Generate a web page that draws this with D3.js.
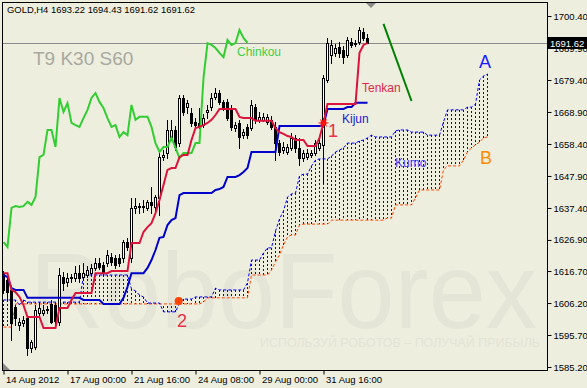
<!DOCTYPE html>
<html>
<head>
<meta charset="utf-8">
<script src="https://cdn.jsdelivr.net/npm/d3@7"></script>
<style>
  body { margin: 0; background: #eeeedf; }
  svg { display: block; font-family: 'Liberation Sans', Arial, sans-serif; }
</style>
</head>
<body>
<div id="chart"></div>
<script>
// GOLD H4 candles, 14 Aug - 3 Sep 2012
var opens = [1616.1,1613.8,1610.5,1604.9,1599.0,1599.6,1601.3,1591.4,1591.8,1602.9,
  1602.9,1603.9,1605.9,1605.6,1600.0,1614.7,1613.1,1614.4,1614.4,1616.1,
  1614.7,1615.4,1616.1,1617.7,1619.3,1618.7,1619.3,1621.3,1621.0,1621.0,
  1621.0,1626.2,1621.0,1637.4,1638.0,1637.7,1637.4,1639.4,1637.7,1640.7,
  1654.1,1655.4,1660.7,1663.0,1658.7,1673.5,1670.5,1668.6,1665.6,1665.3,
  1664.6,1668.9,1670.5,1673.8,1675.1,1672.2,1672.2,1670.2,1663.6,1665.3,
  1661.3,1664.0,1663.6,1670.5,1666.3,1666.3,1665.6,1666.3,1664.0,1658.7,
  1656.4,1655.8,1657.1,1660.4,1657.1,1653.8,1654.1,1654.8,1655.4,1657.1,
  1658.1,1679.4,1687.6,1688.3,1690.2,1689.2,1687.6,1691.9,1691.2,1691.9,
  1695.2,1693.22];
var highs = [1616.7,1615.1,1611.5,1605.6,1601.3,1601.9,1602.3,1594.1,1605.6,1606.2,
  1605.6,1605.2,1607.2,1606.2,1617.7,1616.4,1616.1,1615.7,1618.4,1618.7,
  1619.3,1618.4,1619.0,1621.0,1621.0,1619.7,1623.6,1622.6,1622.0,1622.3,
  1626.9,1627.5,1640.7,1640.7,1639.0,1640.0,1640.0,1644.3,1641.7,1655.8,
  1656.4,1666.3,1666.3,1664.3,1674.5,1674.5,1672.8,1670.2,1666.9,1670.2,
  1668.2,1671.2,1675.1,1676.8,1676.1,1672.8,1673.2,1671.2,1665.6,1666.3,
  1663.3,1665.0,1672.8,1671.5,1668.9,1668.6,1668.2,1667.6,1665.6,1659.7,
  1659.0,1658.4,1662.0,1661.3,1660.4,1656.4,1656.7,1656.4,1659.7,1660.4,
  1681.0,1693.2,1692.5,1691.2,1691.9,1690.6,1693.5,1693.2,1692.5,1696.8,
  1696.5,1694.43];
var lows = [1609.5,1607.2,1594.1,1599.0,1597.3,1598.6,1589.1,1590.1,1591.1,1602.3,
  1602.3,1602.9,1599.6,1599.3,1599.0,1610.5,1611.8,1613.1,1613.4,1613.1,
  1613.8,1614.7,1615.4,1617.0,1617.4,1615.1,1618.4,1618.7,1617.7,1618.4,
  1619.7,1623.6,1619.7,1635.7,1635.7,1636.1,1636.7,1635.7,1636.7,1635.1,
  1653.1,1653.8,1659.7,1656.4,1657.7,1667.9,1668.6,1664.3,1663.6,1663.6,
  1664.0,1666.9,1669.6,1673.2,1671.5,1669.6,1666.3,1663.0,1662.7,1657.1,
  1660.4,1660.4,1663.0,1665.3,1665.6,1666.0,1665.0,1663.3,1653.1,1654.8,
  1655.4,1655.1,1656.4,1655.8,1651.5,1652.8,1653.5,1654.1,1654.8,1656.4,
  1645.6,1678.7,1685.0,1687.3,1686.9,1685.0,1686.9,1690.2,1690.6,1691.2,
  1692.5,1691.62];
var closes = [1610.5,1609.8,1599.6,1601.3,1600.0,1600.6,1591.4,1593.4,1603.9,1604.6,
  1603.9,1604.2,1600.0,1600.3,1615.4,1612.8,1614.4,1614.7,1616.1,1614.4,
  1616.1,1617.0,1617.7,1619.3,1618.0,1616.1,1622.0,1619.7,1618.7,1619.3,
  1626.2,1624.6,1637.4,1638.0,1637.7,1638.0,1639.4,1638.4,1641.0,1654.1,
  1654.8,1663.0,1663.0,1657.4,1673.5,1668.9,1671.8,1665.3,1664.6,1664.0,
  1666.9,1669.6,1673.5,1675.1,1672.2,1670.2,1666.9,1664.0,1664.6,1660.7,
  1662.3,1661.3,1671.2,1666.3,1667.3,1667.3,1667.3,1664.0,1658.7,1655.8,
  1657.4,1657.4,1660.4,1657.1,1653.8,1655.4,1655.4,1655.4,1658.7,1658.7,
  1680.1,1691.5,1690.9,1689.9,1688.3,1686.9,1692.5,1690.9,1691.5,1695.8,
  1693.2,1691.62];

// ichimoku T9 K30 S60
var tenkan = [1616.0,1616.0,1610.5,1609.8,1608.2,1605.5,1601.6,1601.6,1601.6,1601.6,
  1598.0,1598.0,1598.0,1598.0,1604.6,1604.6,1604.6,1607.2,1609.5,1609.5,
  1609.5,1609.5,1609.5,1616.0,1616.0,1616.0,1616.0,1616.7,1616.7,1616.7,
  1616.7,1616.7,1625.9,1625.9,1625.9,1629.5,1631.1,1632.4,1635.7,1640.0,
  1644.9,1649.9,1650.5,1650.5,1654.1,1654.8,1654.8,1659.7,1663.6,1664.0,
  1664.6,1665.3,1666.3,1667.9,1669.9,1669.9,1669.9,1669.9,1669.9,1667.3,
  1666.9,1666.9,1666.9,1666.0,1666.0,1666.0,1666.0,1666.0,1663.6,1662.3,
  1661.7,1661.0,1660.7,1659.7,1659.7,1659.7,1657.7,1657.7,1657.7,1660.4,
  1665.3,1671.5,1671.5,1671.5,1671.5,1671.5,1671.5,1671.5,1671.5,1688.3,
  1690.9,1691.5];
var kijun = [1615.4,1614.7,1611.1,1610.5,1610.5,1610.5,1607.9,1607.9,1607.9,1607.9,
  1607.9,1607.9,1607.9,1607.9,1607.9,1607.9,1607.9,1607.9,1607.9,1607.9,
  1607.2,1607.2,1607.2,1607.2,1607.2,1605.9,1605.9,1605.9,1605.9,1605.9,
  1607.9,1611.5,1616.0,1616.0,1616.0,1616.0,1617.7,1620.3,1623.6,1627.6,
  1627.9,1631.8,1633.4,1634.1,1641.6,1642.3,1642.3,1642.3,1642.3,1642.3,
  1642.3,1642.3,1642.3,1643.3,1643.6,1644.3,1647.6,1647.6,1647.6,1648.2,
  1649.2,1650.5,1655.8,1655.8,1655.8,1655.8,1655.8,1655.8,1655.8,1664.3,
  1664.3,1664.3,1664.3,1664.3,1664.3,1664.3,1664.3,1664.3,1664.3,1664.3,
  1664.6,1669.9,1669.9,1669.9,1669.9,1669.9,1670.5,1670.5,1671.9,1671.9,
  1671.9,1671.9];
// senkou spans, 30 bars ahead of price
var senkouA = [1607.2,1607.2,1607.2,1607.2,1605.5,1607.2,1606.5,1606.5,1606.5,1606.5,
  1606.5,1606.5,1606.5,1606.5,1606.5,1606.5,1606.5,1606.5,1606.5,1606.5,
  1615.4,1615.4,1615.4,1615.4,1615.4,1615.4,1615.4,1615.4,1615.4,1615.4,
  1615.4,1615.4,1610.8,1610.2,1608.8,1608.2,1606.2,1606.2,1606.2,1606.2,
  1603.3,1603.3,1603.3,1603.3,1606.2,1607.5,1607.5,1607.5,1608.2,1608.2,
  1608.2,1608.2,1608.2,1611.1,1610.5,1610.5,1610.5,1610.5,1610.5,1610.5,
  1610.5,1612.8,1620.3,1620.3,1620.3,1622.6,1624.3,1624.3,1629.8,1633.8,
  1636.4,1641.0,1642.0,1642.3,1647.9,1648.5,1648.5,1651.2,1653.1,1653.5,
  1653.5,1653.5,1654.4,1655.8,1656.4,1657.1,1658.7,1658.7,1658.7,1659.4,
  1659.7,1660.4,1661.3,1660.7,1660.7,1660.7,1660.7,1660.7,1662.7,1663.0,
  1663.0,1663.0,1662.3,1662.3,1662.3,1662.3,1661.3,1661.3,1661.3,1661.3,
  1665.6,1669.6,1669.6,1669.6,1669.6,1669.6,1670.5,1670.5,1671.5,1679.4,
  1680.7,1681.4];
var senkouB = [1598.3,1598.3,1598.3,1605.9,1605.9,1605.9,1605.9,1605.9,1605.9,1605.9,
  1605.9,1605.9,1605.9,1605.9,1605.9,1605.9,1605.9,1605.9,1605.9,1605.9,
  1605.9,1605.9,1605.9,1605.9,1605.9,1605.9,1605.9,1605.9,1605.9,1605.9,
  1605.9,1605.9,1605.9,1605.9,1605.9,1605.9,1605.9,1605.9,1605.9,1605.9,
  1605.9,1605.9,1605.9,1605.9,1605.9,1605.9,1605.9,1605.9,1605.9,1605.9,
  1606.5,1607.9,1607.9,1607.9,1607.9,1607.9,1607.9,1607.9,1607.9,1607.9,
  1607.9,1607.9,1615.4,1615.4,1615.4,1615.4,1615.4,1617.0,1619.7,1622.0,
  1625.2,1627.9,1628.5,1628.5,1631.8,1632.1,1632.1,1632.1,1632.1,1632.1,
  1632.1,1632.1,1633.4,1633.4,1633.4,1633.4,1633.4,1633.4,1633.4,1633.4,
  1633.4,1633.4,1633.4,1633.4,1633.4,1633.4,1634.1,1634.1,1638.4,1638.4,
  1638.4,1638.4,1638.4,1640.7,1643.3,1643.3,1643.3,1643.3,1643.3,1643.3,
  1649.9,1651.2,1651.2,1651.2,1651.2,1653.1,1655.8,1657.1,1658.1,1659.0,
  1660.4,1660.7];

var chinkouShift = 30;
var lastPrice = 1691.62;
var header = 'GOLD,H4  1693.22 1694.43 1691.62 1691.62';
var priceTicks = [1700.40, 1689.90, 1679.40, 1668.90, 1658.40, 1647.90, 1637.40, 1626.90, 1616.70, 1606.20, 1595.70, 1585.20];
var timeTickBars = [0, 16, 32, 48, 64, 80];
var timeTickLabels = ['14 Aug 2012', '17 Aug 00:00', '21 Aug 16:00', '24 Aug 08:00', '29 Aug 00:00', '31 Aug 16:00'];
// hand drawn trend line and cross markers (bar, price)
var trendLine = [[95, 1697.8], [102, 1672.5]];
var crossUp = [80, 1665.3];
var twistPoint = [43.8, 1606.9];

var width = 587, height = 388;
var plotL = 2.5, plotR = 547.5, plotT = 2.5, plotB = 370.5;

var svg = d3.select('#chart').append('svg').attr('width', width).attr('height', height);
svg.append('rect').attr('width', width).attr('height', height).attr('fill', '#eeeedf');

var x = d3.scaleLinear().domain([0, 121]).range([3.5, 487.5]);
var y = d3.scaleLinear().domain([1585.2, 1700.4]).range([367, 16]);

svg.append('clipPath').attr('id', 'plot-clip')
  .append('rect').attr('x', plotL).attr('y', plotT).attr('width', plotR - plotL).attr('height', plotB - plotT);

// watermark
svg.append('text').attr('x', 30).attr('y', 328).attr('textLength', 507).attr('lengthAdjust', 'spacingAndGlyphs')
  .attr('font-size', 108).attr('fill', '#e5e5d7').text('RoboForex');
svg.append('text').attr('x', 260).attr('y', 347).attr('textLength', 280).attr('lengthAdjust', 'spacingAndGlyphs')
  .attr('font-size', 13).attr('fill', '#e3e3d5').text('ИСПОЛЬЗУЙ РОБОТОВ – ПОЛУЧАЙ ПРИБЫЛЬ');

var plot = svg.append('g').attr('clip-path', 'url(#plot-clip)');

// kumo hatching, snapped to whole pixels so the dashes stay crisp
plot.append('g').selectAll('line')
  .data(senkouA)
  .enter()
  .append('line')
  .attr('x1', (d, i) => x(i)).attr('x2', (d, i) => x(i))
  .attr('y1', (d) => Math.round(y(d))).attr('y2', (d, i) => Math.round(y(senkouB[i])))
  .attr('stroke', '#0000ff').attr('stroke-width', 1).attr('stroke-dasharray', '2,2');

var lineOf = d3.line().x((d, i) => x(i)).y((d) => y(d));

plot.append('path').attr('d', lineOf(senkouB)).attr('fill', 'none')
  .attr('stroke', '#ff4500').attr('stroke-width', 1).attr('stroke-dasharray', '3,2');
plot.append('path').attr('d', lineOf(senkouA)).attr('fill', 'none')
  .attr('stroke', '#0000ff').attr('stroke-width', 1).attr('stroke-dasharray', '3,2');

// last price line
plot.append('line').attr('x1', plotL).attr('x2', plotR)
  .attr('y1', Math.round(y(lastPrice)) + 0.5).attr('y2', Math.round(y(lastPrice)) + 0.5)
  .attr('stroke', '#8c8c8c').attr('stroke-width', 1);

// candles
var candles = plot.append('g').selectAll('g')
  .data(closes)
  .enter()
  .append('g');

candles.append('line')
  .attr('x1', (d, i) => x(i)).attr('x2', (d, i) => x(i))
  .attr('y1', (d, i) => Math.round(y(highs[i]))).attr('y2', (d, i) => Math.round(y(lows[i])) + 1)
  .attr('stroke', '#000').attr('stroke-width', 1);

candles.append('rect')
  .attr('x', (d, i) => x(i) - 1)
  .attr('width', 2)
  .attr('y', (d, i) => Math.round(y(Math.max(opens[i], d))) + 0.5)
  .attr('height', (d, i) => Math.max(0, Math.round(y(Math.min(opens[i], d))) - Math.round(y(Math.max(opens[i], d)))))
  .attr('fill', (d, i) => d >= opens[i] ? '#ffffff' : '#000000')
  .attr('stroke', '#000').attr('stroke-width', 1);

// ichimoku lines
var chinkou = closes.slice(chinkouShift);
plot.append('path').attr('d', lineOf(chinkou)).attr('fill', 'none').attr('stroke', '#32cd32').attr('stroke-width', 2);
plot.append('path').attr('d', lineOf(kijun)).attr('fill', 'none').attr('stroke', '#0000cd').attr('stroke-width', 2);
plot.append('path').attr('d', lineOf(tenkan)).attr('fill', 'none').attr('stroke', '#dc143c').attr('stroke-width', 2);

// analyst marks
plot.append('line')
  .attr('x1', x(trendLine[0][0])).attr('y1', y(trendLine[0][1]))
  .attr('x2', x(trendLine[1][0])).attr('y2', y(trendLine[1][1]))
  .attr('stroke', '#008000').attr('stroke-width', 2);

var cx1 = x(crossUp[0]), cy1 = y(crossUp[1]);
plot.append('circle').attr('cx', cx1).attr('cy', cy1).attr('r', 3).attr('fill', '#ff1010');
[0, 45, 90, 135].forEach(function(a) {
  var r = a * Math.PI / 180;
  plot.append('line')
    .attr('x1', cx1 - 5 * Math.cos(r)).attr('y1', cy1 - 5 * Math.sin(r))
    .attr('x2', cx1 + 5 * Math.cos(r)).attr('y2', cy1 + 5 * Math.sin(r))
    .attr('stroke', '#ff1010').attr('stroke-width', 1);
});
plot.append('circle').attr('cx', x(twistPoint[0])).attr('cy', y(twistPoint[1])).attr('r', 4).attr('fill', '#ff4500');

// labels
function label(txt, lx, ly, size, color) {
  svg.append('text').attr('x', lx).attr('y', ly).attr('font-size', size).attr('fill', color).text(txt);
}
label('T9 K30 S60', 33, 65, 19, '#a8a8a0');
label('Chinkou', 237, 56, 12, '#3fcf3f');
label('Tenkan', 362, 92, 12, '#e0284a');
label('Kijun', 342, 123, 12, '#2020d8');
label('Kumo', 395, 167, 12, '#4848ff');
label('A', 479, 68, 18, '#1a1aff');
label('B', 480, 164, 18, '#ff8c00');
label('1', 328, 137, 18, '#e83048');
label('2', 177, 327, 18, '#e83048');

// frame and axes
svg.append('rect').attr('x', plotL).attr('y', plotT).attr('width', plotR - plotL).attr('height', plotB - plotT)
  .attr('fill', 'none').attr('stroke', '#000').attr('stroke-width', 1);

var yAxis = svg.append('g').attr('transform', 'translate(' + plotR + ',0)')
  .call(d3.axisRight(y).tickValues(priceTicks).tickFormat(d3.format('.2f')).tickSize(4).tickPadding(2));
var xAxis = svg.append('g').attr('transform', 'translate(0,' + plotB + ')')
  .call(d3.axisBottom(x).tickValues(timeTickBars).tickFormat((d, i) => timeTickLabels[i]).tickSize(4).tickPadding(2));

[yAxis, xAxis].forEach(function(ax) {
  ax.select('.domain').remove();
  ax.selectAll('line').attr('stroke', '#000');
  ax.selectAll('text').attr('font-size', 9.5).attr('font-family', "'Liberation Sans', Arial, sans-serif").attr('fill', '#000');
});
xAxis.selectAll('text').attr('text-anchor', 'start').attr('dx', 2);

// current price box
var py = Math.round(y(lastPrice));
svg.append('rect').attr('x', 548).attr('y', py - 6).attr('width', 39).attr('height', 12).attr('fill', '#000');
svg.append('text').attr('x', 550).attr('y', py + 4).attr('font-size', 9.5).attr('fill', '#fff').text(d3.format('.2f')(lastPrice));

// header
svg.append('text').attr('x', 7).attr('y', 13).attr('font-size', 9.5).attr('fill', '#000')
  .attr('textLength', 188).attr('lengthAdjust', 'spacingAndGlyphs').text(header);

// chart shift marker and corner arrow
svg.append('path').attr('d', 'M366,3 L376,3 L371,8 Z').attr('fill', '#8a8a8a');
svg.append('path').attr('d', 'M3,363 L3,370 L10,370 Z').attr('fill', '#8a8a8a');
</script>
</body>
</html>
